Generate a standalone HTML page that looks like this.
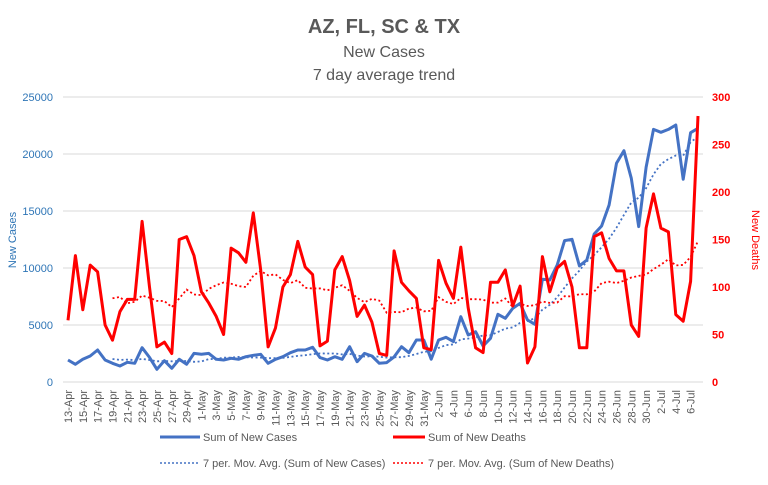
<!DOCTYPE html>
<html><head><meta charset="utf-8"><style>
body{margin:0;background:#fff;font-family:"Liberation Sans",sans-serif}
svg text{font-family:"Liberation Sans",sans-serif}
</style></head><body>
<svg id="c" width="768" height="480" viewBox="0 0 768 480">
<rect width="768" height="480" fill="#fff"/>
<text x="384" y="33" text-anchor="middle" font-size="20" font-weight="bold" fill="#595959">AZ, FL, SC &amp; TX</text>
<text x="384" y="57" text-anchor="middle" font-size="16" fill="#595959">New Cases</text>
<text x="384" y="80" text-anchor="middle" font-size="16" fill="#595959">7 day average trend</text>
<text transform="translate(16,240) rotate(-90)" text-anchor="middle" font-size="11" fill="#2E75B6">New Cases</text>
<text transform="translate(752,240) rotate(90)" text-anchor="middle" font-size="11" fill="#FF0000">New Deaths</text>
<g id="grid"></g><g id="xl"></g><g id="series"></g>
<g font-size="11" fill="#595959">
<line x1="160" y1="437" x2="200" y2="437" stroke="#4472C4" stroke-width="3"/>
<text x="203" y="441">Sum of New Cases</text>
<line x1="393" y1="437" x2="425" y2="437" stroke="#FF0000" stroke-width="3"/>
<text x="428" y="441">Sum of New Deaths</text>
<line x1="160" y1="463" x2="198" y2="463" stroke="#4472C4" stroke-width="1.5" stroke-dasharray="2,2"/>
<text x="203" y="467">7 per. Mov. Avg. (Sum of New Cases)</text>
<line x1="393" y1="463" x2="425" y2="463" stroke="#FF0000" stroke-width="1.5" stroke-dasharray="2,2"/>
<text x="428" y="467">7 per. Mov. Avg. (Sum of New Deaths)</text>
</g>
</svg>
<script>
const cases=[1930,1550,1990,2280,2810,1930,1640,1400,1730,1640,3010,2160,1110,1870,1200,1990,1550,2510,2430,2510,1990,1930,2080,1990,2220,2340,2430,1640,1990,2220,2570,2810,2810,3040,2140,1930,2220,1990,3100,1780,2510,2280,1640,1700,2200,3100,2570,3680,3680,2000,3680,3920,3540,5730,4120,4410,3160,3830,5940,5590,6460,6900,5440,5060,9010,8950,10260,12400,12520,10180,10700,12980,13680,15530,19180,20290,17870,13630,18830,22160,21900,22160,22540,17780,21870,22250];
const deaths=[65,133,76,123,116,60,44,74,87,87,169,100,37,42,30,150,153,133,95,83,69,50,141,136,126,178,118,37,57,100,113,148,121,113,38,43,118,132,107,69,81,63,30,28,138,105,96,88,36,34,128,104,88,142,78,36,31,105,105,118,80,101,20,37,132,95,120,127,100,36,36,153,157,130,117,117,60,48,162,198,162,158,71,64,106,280];
const leftTicks=[0,5000,10000,15000,20000,25000];
const rightTicks=[0,50,100,150,200,250,300];
const months=["Apr","May","Jun","Jul"];
const NS="http://www.w3.org/2000/svg";
const X0=68,X1=698,YB=382,YT=97,L=63,R=703;
const xs=i=>X0+i*(X1-X0)/(cases.length-1);
const yl=v=>YB-v/25000*(YB-YT);
const yr=v=>YB-v/300*(YB-YT);
function mk(t,a,p){const e=document.createElementNS(NS,t);for(const k in a)e.setAttribute(k,a[k]);p.appendChild(e);return e;}
const grid=document.getElementById('grid');
leftTicks.forEach(v=>{
 const l=mk('line',{x1:L,x2:R,y1:yl(v),y2:yl(v),stroke:'#d9d9d9','stroke-width':1},grid);
 
 
 const t=mk('text',{x:53,y:yl(v)+4,'text-anchor':'end','font-size':11,fill:'#2E75B6'},grid);t.textContent=v;
 
 
});
rightTicks.forEach(v=>{
 const t=mk('text',{x:712,y:yr(v)+4,'font-size':11,'font-weight':'bold',fill:'#FF0000'},grid);t.textContent=v;
 
 
});
const xl=document.getElementById('xl');
const start=new Date(2020,3,13);
for(let i=0;i<cases.length;i+=2){
 const d=new Date(start.getTime()+i*86400000);
 const lab=d.getDate()+'-'+months[d.getMonth()-3];
 const t=mk('text',{transform:`translate(${xs(i)+4},390) rotate(-90)`,'text-anchor':'end','font-size':11,fill:'#595959'},xl);t.textContent=lab;
 
 
}
const sg=document.getElementById('series');
function ma(a){const r=[];for(let i=6;i<a.length;i++){let s=0;for(let j=i-6;j<=i;j++)s+=a[j];r.push([i,s/7]);}return r;}
function path(pts,y){return pts.map((p,k)=>(k?'L':'M')+xs(p[0]).toFixed(1)+','+y(p[1]).toFixed(1)).join('');}
let p;
p=mk('path',{d:path(ma(cases),yl),fill:'none',stroke:'#4472C4','stroke-width':1.8,'stroke-dasharray':'2,2.5'},sg);


p=mk('path',{d:path(ma(deaths),yr),fill:'none',stroke:'#FF0000','stroke-width':1.8,'stroke-dasharray':'2,2.5'},sg);


p=mk('path',{d:path(cases.map((v,i)=>[i,v]),yl),fill:'none',stroke:'#4472C4','stroke-width':3,'stroke-linejoin':'round'},sg);


p=mk('path',{d:path(deaths.map((v,i)=>[i,v]),yr),fill:'none',stroke:'#FF0000','stroke-width':3,'stroke-linejoin':'round'},sg);


</script>
</body></html>
